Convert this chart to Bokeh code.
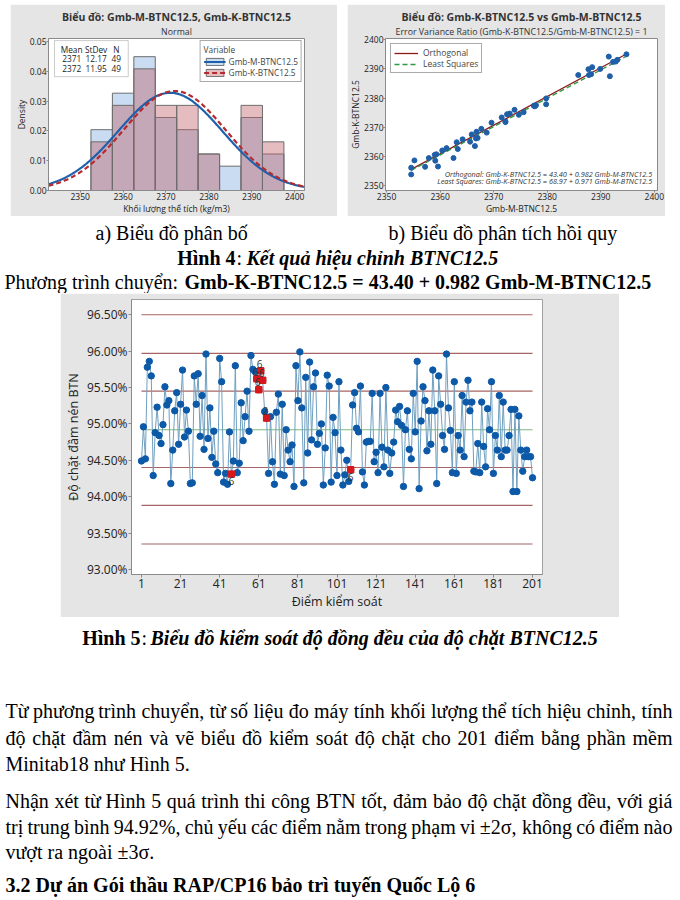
import unicodedata
import numpy as np
from bokeh.plotting import figure
from bokeh.models import (Range1d, Label, Legend, LegendItem, Title, Spacer,
                          PrintfTickFormatter, FixedTicker, BoxAnnotation)
from bokeh.layouts import column, row
from bokeh.embed import file_html
from bokeh.resources import INLINE
from bokeh.core.properties import value

GRAY = "#e5e5e5"
SANS = "Open Sans"
SERIF = "Liberation Serif"

# ---------------- data: histogram (Fig 4a)
bin_left = [2352.5, 2357.5, 2362.5, 2367.5, 2372.5, 2377.5, 2382.5, 2387.5, 2392.5]
bin_width = 5.0
m_counts = [5, 8, 11, 6, 5, 3, 2, 6, 3]
k_counts = [4, 7, 10, 7, 7, 3, 0, 7, 4]
series_names = ["Gmb-M-BTNC12.5", "Gmb-K-BTNC12.5"]
stat_header = ["Mean", "StDev", "N"]
m_stats = [2371, 12.17, 49]
k_stats = [2372, 11.95, 49]
hist_xticks = [2350, 2360, 2370, 2380, 2390, 2400]
hist_yticks = [0.0, 0.01, 0.02, 0.03, 0.04, 0.05]

# ---------------- data: regression (Fig 4b)
gmb_m = [2354.6, 2354.6, 2355.2, 2357.2, 2357.9, 2359.0, 2359.3, 2359.1, 2359.6, 2360.4,
         2361.2, 2362.5, 2363.1, 2363.3, 2364.2, 2365.6, 2365.9, 2366.5, 2366.8, 2367.0,
         2367.7, 2368.7, 2369.6, 2371.5, 2372.2, 2372.5, 2373.0, 2373.9, 2374.7, 2375.6,
         2377.5, 2377.9, 2379.8, 2379.8, 2385.8, 2387.7, 2387.8, 2388.4, 2389.9, 2391.5,
         2391.7, 2392.3, 2392.8, 2393.1, 2394.8, 2372.2, 2377.7, 2366.7, 2388.2]
gmb_k = [2353.9, 2356.2, 2358.7, 2356.5, 2359.5, 2360.6, 2360.8, 2358.6, 2356.6, 2362.1,
         2362.9, 2359.5, 2364.9, 2362.6, 2365.9, 2365.1, 2367.6, 2363.6, 2368.5, 2366.4,
         2369.5, 2368.2, 2371.6, 2373.4, 2372.0, 2374.5, 2374.7, 2376.0, 2374.3, 2375.2,
         2377.4, 2377.6, 2379.9, 2377.9, 2387.9, 2389.9, 2387.9, 2390.6, 2390.0, 2394.2,
         2387.5, 2392.4, 2392.5, 2393.1, 2395.0, 2371.8, 2377.2, 2366.2, 2388.2]
orth_a, orth_b = 43.40, 0.982
ls_a, ls_b = 68.97, 0.971
reg_ticks = [2350, 2360, 2370, 2380, 2390, 2400]

# ---------------- data: control chart (Fig 5)
ctrl_vals = [
    94.49, 94.96, 94.52, 95.78, 95.86, 95.66, 94.29, 94.88, 95.23, 94.84,
    94.73, 94.99, 95.51, 95.26, 95.32, 94.18, 94.64, 95.18, 95.43, 94.72,
    95.27, 95.74, 94.82, 95.19, 94.90, 94.18, 94.19, 95.66, 95.27, 95.69,
    94.83, 95.39, 94.65, 95.96, 94.80, 95.22, 94.54, 94.90, 94.45, 94.33,
    95.90, 95.58, 94.20, 94.32, 94.17, 94.89, 94.31, 94.49, 95.80, 94.33,
    94.46, 95.29, 94.77, 95.10, 95.45, 94.90, 95.94, 95.75, 95.72, 95.62,
    95.47, 95.73, 95.60, 95.17, 95.08, 94.32, 95.10, 94.48, 94.17, 95.16,
    95.41, 94.31, 95.27, 94.29, 94.92, 94.64, 94.48, 94.71, 94.14, 95.80,
    95.32, 95.99, 95.22, 94.19, 95.64, 94.60, 95.85, 94.78, 95.51, 95.70,
    94.72, 94.87, 95.00, 94.16, 94.67, 95.67, 95.52, 94.20, 95.09, 94.88,
    94.29, 95.58, 94.64, 94.16, 94.30, 94.50, 94.21, 94.37, 95.26, 95.43,
    94.94, 94.89, 95.52, 94.34, 94.16, 94.75, 94.76, 94.76, 95.42, 94.48,
    94.61, 94.33, 95.42, 94.68, 94.41, 95.50, 94.64, 94.32, 94.60, 94.75,
    95.19, 95.03, 95.24, 94.98, 94.14, 94.92, 95.18, 94.65, 94.52, 95.42,
    94.89, 95.86, 94.11, 95.04, 95.51, 95.32, 94.63, 95.18, 94.72, 95.74,
    95.18, 94.18, 95.66, 95.27, 94.84, 94.65, 95.96, 95.22, 94.91, 94.33,
    95.58, 94.32, 94.84, 94.64, 95.39, 94.55, 95.30, 95.60, 95.18, 95.30,
    94.35, 94.34, 94.73, 94.33, 95.30, 94.69, 94.41, 95.21, 94.92, 95.58,
    94.32, 94.84, 94.64, 95.39, 94.55, 95.30, 94.64, 94.64, 94.84, 95.20,
    94.07, 95.20, 94.07, 95.11, 94.64, 94.35, 94.55, 94.64, 94.55, 94.55,
    94.26]
ctrl_idx = list(range(1, len(ctrl_vals) + 1))
limit_names = ["+3SL", "+2SL", "+1SL", "X\u0304", "-1SL", "-2SL", "-3SL"]
limit_vals = [96.50, 95.97, 95.45, 94.92, 94.40, 93.88, 93.35]
ucl_val, lcl_val = 96.50, 93.35
flag_idx = [47, 60, 61, 62, 63, 65, 108]
flag_test = ["6", "6", "6", "6", "6", "2", "6"]
ctrl_yticks = [93.0, 93.5, 94.0, 94.5, 95.0, 95.5, 96.0, 96.5]
ctrl_xticks = list(range(1, 202, 20))


def style_axes(p, fs, lfs, tick_out=3, lso=1, aso=2):
    for ax in p.axis:
        ax.major_label_text_font = SANS
        ax.major_label_text_font_size = fs
        ax.major_label_text_color = "#222222"
        ax.axis_label_text_font = SANS
        ax.axis_label_text_font_size = lfs
        ax.axis_label_text_font_style = "normal"
        ax.axis_label_text_color = "#222222"
        ax.major_tick_in = 0
        ax.major_tick_out = tick_out
        ax.minor_tick_in = 0
        ax.minor_tick_out = 0
        ax.axis_line_color = "#8a8a8a"
        ax.major_tick_line_color = "#8a8a8a"
        ax.major_label_standoff = lso
        ax.axis_label_standoff = aso
    p.grid.visible = False


# ================= Fig 4a: histogram =================
hist = figure(width=327, height=212, x_range=Range1d(2342.6, 2402.3), y_range=Range1d(0, 0.051),
              output_backend="svg", toolbar_location=None,
              background_fill_color="white", border_fill_color=GRAY,
              min_border_left=38, min_border_right=33, min_border_top=34, min_border_bottom=22,
              outline_line_color="#8a8a8a")
hist.title.text = "Biểu đồ: Gmb-M-BTNC12.5, Gmb-K-BTNC12.5"
hist.title.align = "center"
hist.title.text_font = SANS
hist.title.text_font_size = "10.5px"
hist.title.text_font_style = "bold"
hist.title.text_color = "#333333"
hist.title.standoff = 0
hist.add_layout(Title(text="Normal", align="center", text_font=SANS, text_font_size="8.8px",
                      text_font_style="normal", text_color="#333333", standoff=1), "above")

bl = np.array(bin_left)
m_dens = np.array(m_counts) / (m_stats[2] * bin_width)
k_dens = np.array(k_counts) / (k_stats[2] * bin_width)
hist.add_layout(BoxAnnotation(left=2344.0, right=2361.2, bottom=0.0382, top=0.0503,
                              fill_color="white", fill_alpha=1.0, line_color="#555555",
                              line_width=1, level="underlay"))
rq_m = hist.quad(left=bl, right=bl + bin_width, bottom=0, top=m_dens,
                 fill_color="#c9dcf1", fill_alpha=1.0, line_color="#6d6d6d", line_width=1)
rq_k = hist.quad(left=bl, right=bl + bin_width, bottom=0, top=k_dens,
                 fill_color="#c0606a", fill_alpha=0.42, line_color="#6d6d6d", line_width=1)
xs = np.linspace(2342.6, 2402.3, 240)
m_pdf = np.exp(-(xs - m_stats[0]) ** 2 / (2 * m_stats[1] ** 2)) / (m_stats[1] * np.sqrt(2 * np.pi))
k_pdf = np.exp(-(xs - k_stats[0]) ** 2 / (2 * k_stats[1] ** 2)) / (k_stats[1] * np.sqrt(2 * np.pi))
rl_m = hist.line(xs, m_pdf, line_color="#1f60ad", line_width=2.2)
rl_k = hist.line(xs, k_pdf, line_color="#b32a2f", line_width=2.2, line_dash="5 3")

leg = Legend(items=[LegendItem(label=series_names[0], renderers=[rq_m, rl_m]),
                    LegendItem(label=series_names[1], renderers=[rq_k, rl_k])],
             location="top_right", title="Variable",
             title_text_font=SANS, title_text_font_size="8.3px", title_text_font_style="normal",
             label_text_font=SANS, label_text_font_size="8.3px", label_standoff=3,
             glyph_width=22, glyph_height=9, spacing=0, padding=3, margin=2,
             border_line_color="#555555", background_fill_color="white", label_height=9,
             title_standoff=1)
hist.add_layout(leg)

stat_x = [2348.0, 2353.7, 2358.4]
hist.text(x=stat_x, y=[0.0474] * 3, text=stat_header, text_font=value(SANS),
          text_font_size="8.3px", text_align="center", text_baseline="middle", text_color="#222222")
hist.text(x=stat_x, y=[0.0443] * 3,
          text=[f"{m_stats[0]:d}", f"{m_stats[1]:.2f}", f"{m_stats[2]:d}"],
          text_font=value(SANS), text_font_size="8.3px", text_align="center",
          text_baseline="middle", text_color="#222222")
hist.text(x=stat_x, y=[0.0411] * 3,
          text=[f"{k_stats[0]:d}", f"{k_stats[1]:.2f}", f"{k_stats[2]:d}"],
          text_font=value(SANS), text_font_size="8.3px", text_align="center",
          text_baseline="middle", text_color="#222222")
hist.xaxis.ticker = FixedTicker(ticks=hist_xticks)
hist.yaxis.ticker = FixedTicker(ticks=hist_yticks)
hist.yaxis.formatter = PrintfTickFormatter(format="%.2f")
hist.xaxis.axis_label = "Khối lượng thể tích (kg/m3)"
hist.yaxis.axis_label = "Density"
style_axes(hist, "8.5px", "8.5px", tick_out=2, lso=0, aso=0)

# ================= Fig 4b: regression =================
reg = figure(width=318, height=212, x_range=Range1d(2349.8, 2400.6), y_range=Range1d(2348.4, 2400.4),
             output_backend="svg", toolbar_location=None,
             background_fill_color="white", border_fill_color=GRAY,
             min_border_left=35, min_border_right=8, min_border_top=34, min_border_bottom=22,
             outline_line_color="#8a8a8a")
reg.title.text = "Biểu đồ: Gmb-K-BTNC12.5 vs Gmb-M-BTNC12.5"
reg.title.align = "center"
reg.title.text_font = SANS
reg.title.text_font_size = "10.5px"
reg.title.text_font_style = "bold"
reg.title.text_color = "#333333"
reg.title.standoff = 0
reg.add_layout(Title(text="Error Variance Ratio (Gmb-K-BTNC12.5/Gmb-M-BTNC12.5) = 1", align="center",
                     text_font=SANS, text_font_size="8.8px", text_font_style="normal",
                     text_color="#333333", standoff=1), "above")
xmin, xmax = min(gmb_m), max(gmb_m)
r_orth = reg.line([xmin, xmax], [orth_a + orth_b * xmin, orth_a + orth_b * xmax],
                  line_color="#8b1a1a", line_width=1.3)
r_ls = reg.line([xmin, xmax], [ls_a + ls_b * xmin, ls_a + ls_b * xmax],
                line_color="#2e9a46", line_width=1.3, line_dash="5 3")
reg.scatter(gmb_m, gmb_k, size=5, fill_color="#1f5fa8", line_color="#1f5fa8")
leg2 = Legend(items=[LegendItem(label="Orthogonal", renderers=[r_orth]),
                     LegendItem(label="Least Squares", renderers=[r_ls])],
              location="top_left", label_text_font=SANS, label_text_font_size="8.5px",
              glyph_width=24, glyph_height=8, spacing=0, padding=3, margin=5, label_height=9,
              border_line_color="#555555", background_fill_color="white")
reg.add_layout(leg2)
reg.text(x=[2399.6, 2399.6], y=[2353.9, 2351.6],
         text=[f"Orthogonal: Gmb-K-BTNC12.5 = {orth_a:.2f} + {orth_b:.3f} Gmb-M-BTNC12.5",
               f"Least Squares: Gmb-K-BTNC12.5 = {ls_a:.2f} + {ls_b:.3f} Gmb-M-BTNC12.5"],
         text_font=value(SANS), text_font_size="7.3px", text_font_style="italic",
         text_align="right", text_baseline="middle", text_color="#333333")
reg.xaxis.ticker = FixedTicker(ticks=reg_ticks)
reg.yaxis.ticker = FixedTicker(ticks=reg_ticks)
reg.xaxis.axis_label = "Gmb-M-BTNC12.5"
reg.yaxis.axis_label = "Gmb-K-BTNC12.5"
style_axes(reg, "8.5px", "8.5px", tick_out=2, lso=0, aso=0)

# ================= text helpers =================
WR = {' ': 250, '!': 333, '%': 833, '(': 333, ')': 333, '+': 564, ',': 250, '-': 333, '.': 250,
      '/': 278, ':': 278, '=': 564, '\u00b1': 549, '\u03c3': 600,
      'A': 722, 'B': 667, 'C': 667, 'D': 722, 'E': 611, 'F': 556, 'G': 722, 'H': 722, 'I': 333,
      'J': 389, 'K': 722, 'L': 611, 'M': 889, 'N': 722, 'O': 722, 'P': 556, 'Q': 722, 'R': 667,
      'S': 556, 'T': 611, 'U': 722, 'V': 722, 'W': 944, 'X': 722, 'Y': 722, 'Z': 611,
      'a': 444, 'b': 500, 'c': 444, 'd': 500, 'e': 444, 'f': 333, 'g': 500, 'h': 500, 'i': 278,
      'j': 278, 'k': 500, 'l': 278, 'm': 778, 'n': 500, 'o': 500, 'p': 500, 'q': 500, 'r': 333,
      's': 389, 't': 278, 'u': 500, 'v': 500, 'w': 722, 'x': 500, 'y': 500, 'z': 444,
      '\u0111': 500, '\u0110': 722}


def word_w(word, size):
    tot = 0
    for ch in word:
        base = unicodedata.normalize("NFD", ch)[0]
        tot += WR.get(base, 500)
    return tot * size / 1000.0


def justify(p, line, y, x0, x1, size):
    words = line.split(" ")
    ws = [word_w(w, size) for w in words]
    gap = (x1 - x0 - sum(ws)) / (len(words) - 1)
    xs_, cur = [], x0
    for w in ws:
        xs_.append(cur)
        cur += w + gap
    p.text(x=xs_, y=[y] * len(words), text=words, text_font=value(SERIF), text_font_size=f"{size}px",
           text_align="left", text_baseline="middle", text_color="black")


def txt(p, x, y, s, size=20, style="normal", align="left"):
    p.text(x=[x], y=[y], text=[s], text_font=value(SERIF), text_font_size=f"{size}px",
           text_font_style=style, text_align=align, text_baseline="middle", text_color="black")


def text_fig(h, ytop):
    f = figure(width=680, height=h, x_range=Range1d(0, 680), y_range=Range1d(ytop + h, ytop),
               output_backend="svg", toolbar_location=None, x_axis_type=None, y_axis_type=None,
               min_border=0, outline_line_color=None, background_fill_color="white",
               border_fill_color="white")
    f.grid.visible = False
    return f


# ================= captions for Fig 4 =================
cap = text_fig(77, 216)
txt(cap, 95, 232, "a) Biểu đồ phân bố")
txt(cap, 388, 232, "b) Biểu đồ phân tích hồi quy")
txt(cap, 235, 257, "Hình 4", style="bold", align="right")
txt(cap, 236, 257, ":")
txt(cap, 246, 257, "Kết quả hiệu chỉnh BTNC12.5", style="bold italic")
txt(cap, 4, 281, "Phương trình chuyển:")
txt(cap, 184, 281, f"Gmb-K-BTNC12.5 = {orth_a:.2f} + {orth_b:.3f} Gmb-M-BTNC12.5", style="bold")

# ================= Fig 5: control chart =================
P = 60
ctrl = figure(width=619 - P, height=324, x_range=Range1d(-4.1, 206.1), y_range=Range1d(92.93, 96.71),
              output_backend="svg", toolbar_location=None,
              background_fill_color="white", border_fill_color=GRAY,
              min_border_left=131 - P, min_border_right=77, min_border_top=6, min_border_bottom=43,
              outline_line_color="#a0a0a0")
lim_colors = ["#a86464", "#a86464", "#a86464", "#7cb87c", "#a86464", "#a86464", "#a86464"]
ctrl.segment(x0=[ctrl_idx[0]] * len(limit_vals), x1=[ctrl_idx[-1]] * len(limit_vals),
             y0=limit_vals, y1=limit_vals, line_color=lim_colors, line_width=1.1)
ctrl.line(ctrl_idx, ctrl_vals, line_color="#6f9fbf", line_width=1)
ctrl.scatter(ctrl_idx, ctrl_vals, size=6.4, fill_color="#0c59a8", line_color="#0c59a8")
fv = [ctrl_vals[i - 1] for i in flag_idx]
ctrl.scatter(flag_idx, fv, marker="square", size=6.4, fill_color="#d8181c", line_color="#d8181c")
for i, t, v in zip(flag_idx, flag_test, fv):
    if v > limit_vals[3]:
        ctrl.text(x=[i - 0.6], y=[v + 0.045], text=[t], text_font=value(SANS), text_font_size="10px",
                  text_align="center", text_baseline="bottom", text_color="#333333")
    else:
        ctrl.text(x=[i], y=[v - 0.045], text=[t], text_font=value(SANS), text_font_size="10px",
                  text_align="center", text_baseline="top", text_color="#333333")

right_labels = [(f"+3SL={limit_vals[0]:.2f}%", limit_vals[0] + 0.175),
                (f"UCL={ucl_val:.2f}%", ucl_val + 0.015)]
for nm, v in zip(limit_names[1:6], limit_vals[1:6]):
    right_labels.append((f"{nm}={v:.2f}%", v))
right_labels += [(f"LCL={lcl_val:.2f}%", lcl_val - 0.005),
                 (f"-3SL={limit_vals[6]:.2f}%", limit_vals[6] - 0.18)]
for s, v in right_labels:
    ctrl.add_layout(Label(x=207.4, y=v, text=s, text_font=SANS, text_font_size="10px",
                          text_align="left", text_baseline="middle", text_color="#333333"))
ctrl.xaxis.ticker = FixedTicker(ticks=ctrl_xticks)
ctrl.yaxis.ticker = FixedTicker(ticks=ctrl_yticks)
ctrl.yaxis.formatter = PrintfTickFormatter(format="%.2f%%")
ctrl.xaxis.axis_label = "Điểm kiểm soát"
ctrl.yaxis.axis_label = "Độ chặt đầm nén BTN"
style_axes(ctrl, "12px", "12.5px")

# ================= bottom text =================
bot = text_fig(281, 617)
txt(bot, 140, 637, "Hình 5", style="bold", align="right")
txt(bot, 141, 637, ":")
txt(bot, 150, 637, "Biểu đồ kiểm soát độ đồng đều của độ chặt BTNC12.5", style="bold italic")
justify(bot, "Từ phương trình chuyển, từ số liệu đo máy tính khối lượng thể tích hiệu chỉnh, tính",
        710, 5, 672, 20)
justify(bot, "độ chặt đầm nén và vẽ biểu đồ kiểm soát độ chặt cho 201 điểm bằng phần mềm",
        737, 5, 672, 20)
txt(bot, 5, 763, "Minitab18 như Hình 5.")
justify(bot, "Nhận xét từ Hình 5 quá trình thi công BTN tốt, đảm bảo độ chặt đồng đều, với giá",
        800, 5, 672, 20)
justify(bot, "trị trung bình 94.92%, chủ yếu các điểm nằm trong phạm vi ±2σ, không có điểm nào",
        826, 5, 672, 20)
txt(bot, 5, 851, "vượt ra ngoài ±3σ.")
txt(bot, 5, 884, "3.2 Dự án Gói thầu RAP/CP16 bảo trì tuyến Quốc Lộ 6", style="bold")

layout = column(
    Spacer(width=680, height=4),
    row(Spacer(width=10, height=212), hist, Spacer(width=10, height=212), reg),
    cap,
    row(Spacer(width=P, height=324), ctrl),
    bot,
)

open("out.html", "w").write(file_html(layout, INLINE))
